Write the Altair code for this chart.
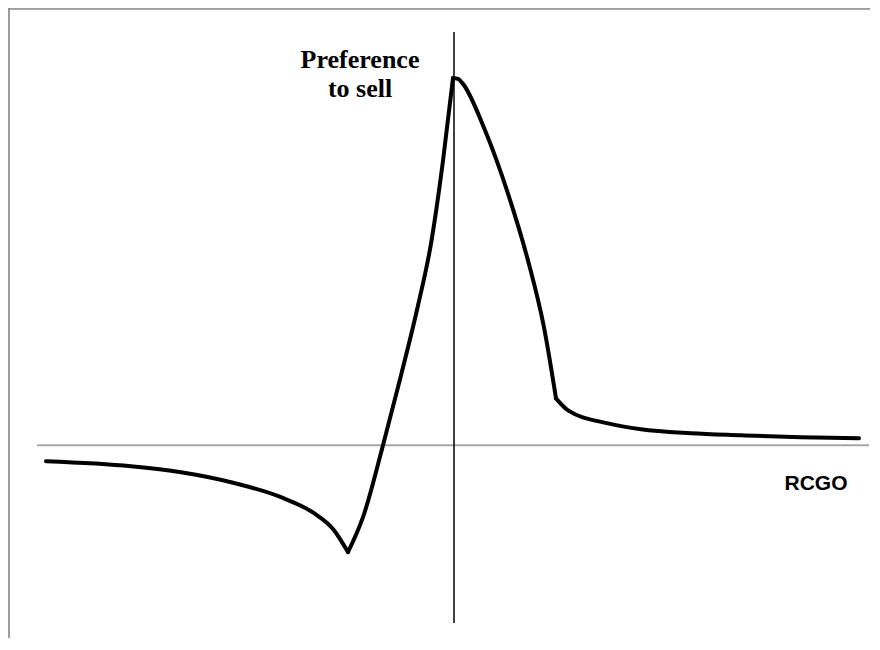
import altair as alt
import pandas as pd

# Curve (arbitrary units; origin at the axes crossing),
# split into the pieces that meet at its corners
curve_x = [-4.08, -3.23, -2.73, -2.23, -1.73, -1.40, -1.20, -1.06,
           -1.06, -0.91, -0.71, -0.53, -0.36, -0.23, -0.11, -0.01,
           -0.01, 0.04, 0.09, 0.30, 0.54, 0.74, 0.90, 1.02,
           1.02, 1.14, 1.54, 1.87, 2.37, 2.87, 3.47, 4.05]
curve_y = [-0.16, -0.21, -0.27, -0.37, -0.52, -0.68, -0.85, -1.07,
           -1.07, -0.72, 0.00, 0.70, 1.40, 2.02, 2.85, 3.68,
           3.68, 3.67, 3.62, 3.18, 2.52, 1.85, 1.18, 0.47,
           0.47, 0.35, 0.22, 0.16, 0.12, 0.10, 0.08, 0.07]
curve_seg = [1] * 8 + [2] * 8 + [3] * 8 + [4] * 8

# Axes extents
haxis_x = [-4.17, 4.15]
vaxis_y = [-1.78, 4.14]

# Labels
label_text = ["Preference", "to sell"]
label_x = [-0.94, -0.94]
label_y = [3.78, 3.49]
xlabel_text = ["RCGO"]
xlabel_x = [3.62]
xlabel_y = [-0.45]

X_DOM = [-4.46, 4.16]
Y_DOM = [-1.93, 4.38]
W, H = 862, 630

xs = alt.Scale(domain=X_DOM, nice=False, zero=False)
ys = alt.Scale(domain=Y_DOM, nice=False, zero=False)

curve_df = pd.DataFrame({"x": curve_x, "y": curve_y, "seg": curve_seg,
                         "i": range(len(curve_x))})
h_df = pd.DataFrame({"x": [haxis_x[0]], "x2": [haxis_x[1]], "y": [0.0]})
v_df = pd.DataFrame({"x": [0.0], "y": [vaxis_y[0]], "y2": [vaxis_y[1]]})
lab_df = pd.DataFrame({"t": label_text, "x": label_x, "y": label_y})
xlab_df = pd.DataFrame({"t": xlabel_text, "x": xlabel_x, "y": xlabel_y})
frame_left = pd.DataFrame({"x": [X_DOM[0] + 0.01], "y": [Y_DOM[0]], "y2": [Y_DOM[1]]})
frame_top = pd.DataFrame({"x": [X_DOM[0]], "x2": [X_DOM[1]], "y": [Y_DOM[1] - 0.01]})

noax = dict(axis=None)

left = alt.Chart(frame_left).mark_rule(color="#8a8a8a", strokeWidth=1.6).encode(
    x=alt.X("x:Q", scale=xs, **noax), y=alt.Y("y:Q", scale=ys, **noax), y2="y2:Q")
top = alt.Chart(frame_top).mark_rule(color="#8a8a8a", strokeWidth=1.6).encode(
    x=alt.X("x:Q", scale=xs, **noax), x2="x2:Q", y=alt.Y("y:Q", scale=ys, **noax))

hline = alt.Chart(h_df).mark_rule(color="#a6a6a6", strokeWidth=2).encode(
    x=alt.X("x:Q", scale=xs, **noax), x2="x2:Q", y=alt.Y("y:Q", scale=ys, **noax))
vline = alt.Chart(v_df).mark_rule(color="#000000", strokeWidth=1.5).encode(
    x=alt.X("x:Q", scale=xs, **noax), y=alt.Y("y:Q", scale=ys, **noax), y2="y2:Q")

line = alt.Chart(curve_df).mark_line(color="#000000", strokeWidth=4,
                                     strokeJoin="round", strokeCap="round",
                                     interpolate="monotone").encode(
    x=alt.X("x:Q", scale=xs, **noax), y=alt.Y("y:Q", scale=ys, **noax),
    detail="seg:N", order="i:Q")

labels = alt.Chart(lab_df).mark_text(font="Liberation Serif", fontWeight="bold",
                                     fontSize=26, align="center", baseline="alphabetic",
                                     color="#000000").encode(
    x=alt.X("x:Q", scale=xs, **noax), y=alt.Y("y:Q", scale=ys, **noax), text="t:N")

xlab = alt.Chart(xlab_df).mark_text(font="Liberation Sans", fontWeight="bold",
                                    fontSize=21, align="center", baseline="alphabetic",
                                    color="#000000").encode(
    x=alt.X("x:Q", scale=xs, **noax), y=alt.Y("y:Q", scale=ys, **noax), text="t:N")

chart = alt.layer(left, top, hline, vline, line, labels, xlab).properties(
    width=W, height=H, padding=0,
    autosize=alt.AutoSizeParams(type="none"),
).configure_view(stroke=None).configure(background="white")

chart.save("out.html", embed_options={"renderer": "svg", "actions": False})
